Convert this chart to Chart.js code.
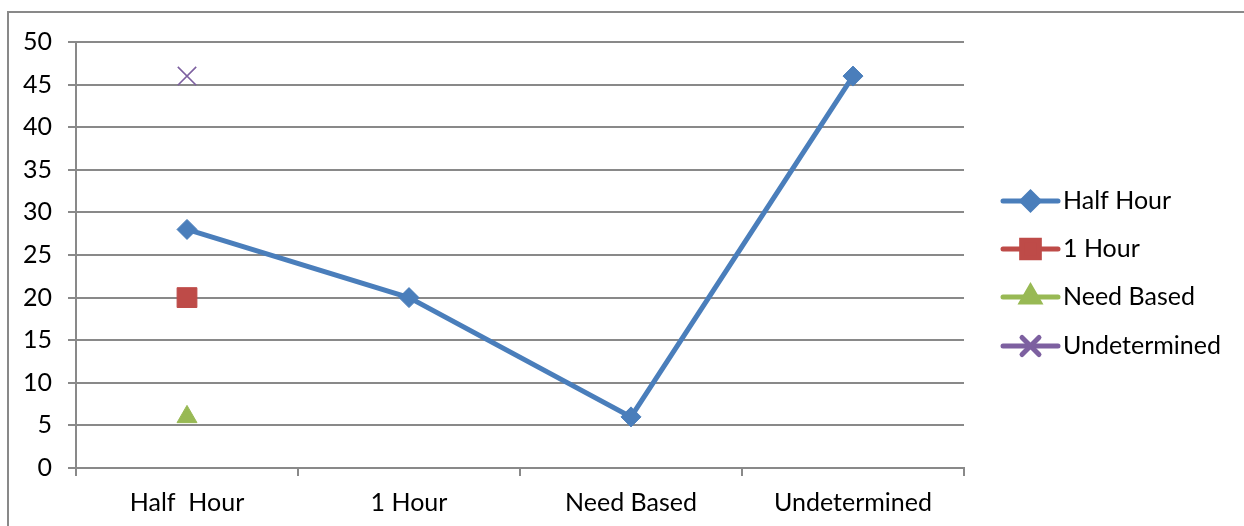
<!DOCTYPE html>
<html>
<head>
<meta charset="utf-8">
<script src="https://cdn.jsdelivr.net/npm/chart.js@4/dist/chart.umd.min.js"></script>
<style>
  html, body { margin: 0; padding: 0; background: #fff; }
  #wrap { width: 1244px; height: 526px; position: relative; }
</style>
</head>
<body>
<div id="wrap"><canvas id="c" width="1244" height="526"></canvas></div>
<script>
// Categories along the x axis
const categories = ['Half  Hour', '1 Hour', 'Need Based', 'Undetermined'];
// Series names shown in the legend
const seriesNames = ['Half Hour', '1 Hour', 'Need Based', 'Undetermined'];
// Series values
const halfHour = [28, 20, 6, 46];
const oneHour = [20, null, null, null];
const needBased = [6, null, null, null];
const undetermined = [46, null, null, null];
// Value axis ticks
const yTicks = [0, 5, 10, 15, 20, 25, 30, 35, 40, 45, 50];

const FONT = 'Lato, "Open Sans", sans-serif';
const FONT_SIZE = 25;
const GRID = '#898989';

const styles = [
  { color: '#4A7EBB', pointStyle: 'rectRot', radius: 10, legendRadius: 8.5, lineWidth: 5, pointBorderWidth: 1 },
  { color: '#BE4B48', pointStyle: 'rect', radius: 14, legendRadius: 12.5, lineWidth: 5, pointBorderWidth: 1 },
  { color: '#98B954', pointStyle: 'triangle', radius: 11.5, legendRadius: 10, lineWidth: 5, pointBorderWidth: 1 },
  { color: '#7D60A0', pointStyle: 'crossRot', radius: 13, legendRadius: 12, lineWidth: 5, pointBorderWidth: 1.6 }
];
const seriesData = [halfHour, oneHour, needBased, undetermined];

const datasets = seriesNames.map((name, i) => ({
  label: name,
  data: seriesData[i],
  borderColor: styles[i].color,
  backgroundColor: styles[i].color,
  borderWidth: styles[i].lineWidth,
  pointStyle: styles[i].pointStyle,
  pointRadius: styles[i].radius,
  pointHoverRadius: styles[i].radius,
  pointBackgroundColor: styles[i].color,
  pointBorderColor: styles[i].color,
  pointBorderWidth: styles[i].pointBorderWidth,
  tension: 0,
  fill: false
}));

// Frame lines around the chart and a white background
const framePlugin = {
  id: 'frame',
  beforeDraw(chart) {
    const ctx = chart.ctx;
    ctx.save();
    ctx.fillStyle = '#fff';
    ctx.fillRect(0, 0, chart.width, chart.height);
    ctx.strokeStyle = GRID;
    ctx.lineWidth = 2;
    ctx.beginPath();
    ctx.moveTo(8, chart.height);
    ctx.lineTo(8, 12);
    ctx.lineTo(chart.width, 12);
    ctx.stroke();
    ctx.restore();
  }
};

// Legend on the right: a line segment with the series marker, then the name
const legendPlugin = {
  id: 'sideLegend',
  afterDraw(chart) {
    const ctx = chart.ctx;
    const x0 = 1003, x1 = 1058, textX = 1063;
    const rowYs = [201, 249, 297, 346];
    ctx.save();
    chart.data.datasets.forEach((ds, i) => {
      const y = rowYs[i];
      const st = styles[i];
      ctx.strokeStyle = st.color;
      ctx.lineWidth = st.lineWidth;
      ctx.lineCap = 'round';
      ctx.beginPath();
      ctx.moveTo(x0, y);
      ctx.lineTo(x1, y);
      ctx.stroke();
      ctx.fillStyle = st.color;
      ctx.strokeStyle = st.color;
      Chart.helpers.drawPoint(ctx, {
        pointStyle: st.pointStyle,
        radius: st.legendRadius,
        rotation: 0,
        borderWidth: st.pointBorderWidth
      }, (x0 + x1) / 2, y);
      ctx.fillStyle = '#000';
      ctx.font = FONT_SIZE + 'px ' + FONT;
      ctx.textBaseline = 'middle';
      ctx.textAlign = 'left';
      ctx.fillText(ds.label, textX, y);
    });
    ctx.restore();
  }
};

new Chart(document.getElementById('c'), {
  type: 'line',
  data: { labels: categories, datasets },
  options: {
    responsive: false,
    animation: false,
    devicePixelRatio: 1,
    layout: { padding: { top: 42, right: 280, left: 0, bottom: 0 } },
    plugins: {
      legend: { display: false },
      tooltip: { enabled: false }
    },
    scales: {
      x: {
        offset: true,
        grid: { offset: true, drawOnChartArea: false, drawTicks: true, tickLength: 8, color: GRID, lineWidth: 2 },
        border: { color: GRID, width: 2 },
        ticks: { color: '#000', font: { family: FONT, size: FONT_SIZE }, padding: 12, autoSkip: false, maxRotation: 0 },
        afterFit(scale) { scale.height = 58; }
      },
      y: {
        min: yTicks[0],
        max: yTicks[yTicks.length - 1],
        afterBuildTicks(scale) { scale.ticks = yTicks.map(v => ({ value: v })); },
        grid: { color: GRID, lineWidth: 2, tickLength: 8 },
        border: { color: GRID, width: 2 },
        ticks: { color: '#000', font: { family: FONT, size: FONT_SIZE }, padding: 16 },
        afterFit(scale) { scale.width = 76; }
      }
    }
  },
  plugins: [framePlugin, legendPlugin]
});
</script>
</body>
</html>
